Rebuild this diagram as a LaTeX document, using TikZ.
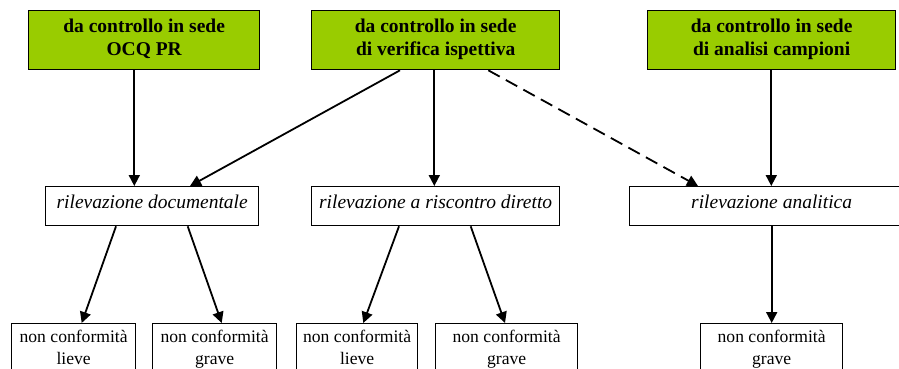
\documentclass[tikz,border=0pt]{standalone}
\usepackage{fontspec}
\setmainfont{Liberation Serif}
\newfontfamily\tmsfont{Liberation Serif}
\usetikzlibrary{arrows.meta,calc}
\definecolor{boxgreen}{HTML}{99CC00}
\begin{document}
\begin{tikzpicture}[x=1pt,y=-1pt,
  box/.style={draw=black,line width=1.3pt,inner sep=0pt,anchor=north west},
  topbox/.style={box,fill=boxgreen,minimum height=59pt},
  midbox/.style={box,fill=white,minimum height=39pt},
  lowbox/.style={box,fill=white,minimum height=50pt},
  toptxt/.style={inner sep=0pt,anchor=north,align=center,font=\tmsfont\fontsize{19.5}{23.4}\selectfont\bfseries},
  midtxt/.style={inner sep=0pt,anchor=north,font=\tmsfont\fontsize{19.5}{23.4}\selectfont\itshape},
  lowtxt/.style={inner sep=0pt,anchor=north,align=center,font=\tmsfont\fontsize{17.6}{21.6}\selectfont},
  conn/.style={line width=1.8pt,-{Triangle[length=11pt,width=11pt]}},
  dashconn/.style={conn,dash pattern=on 13pt off 7pt}
]
\useasboundingbox (0,0) rectangle (899,368);
\clip (0,0) rectangle (899,368);
\fill[white] (0,0) rectangle (899,368);

% top boxes
\node[topbox,minimum width=231pt] (t1) at (28,10) {};
\node[topbox,minimum width=248pt] (t2) at (311,10) {};
\node[topbox,minimum width=248pt] (t3) at (647,10) {};
\node[toptxt] (t1l) at ($(t1.north)+(0,8.3)$) {da controllo in sede\\OCQ PR};
\node[toptxt] (t2l) at ($(t2.north)+(0,8.3)$) {da controllo in sede\\di verifica ispettiva};
\node[toptxt] (t3l) at ($(t3.north)+(0,8.3)$) {da controllo in sede\\di analisi campioni};

% middle boxes
\node[midbox,minimum width=213pt] (m1) at (45,186) {};
\node[midbox,minimum width=248pt] (m2) at (311,186) {};
\node[midbox,minimum width=284pt] (m3) at (629,186) {};
\node[midtxt] (m1l) at ($(m1.north)+(0,9)$) {rilevazione documentale};
\node[midtxt] (m2l) at ($(m2.north)+(0,9)$) {rilevazione a riscontro diretto};
\node[midtxt] (m3l) at ($(m3.north)+(0,9)$) {rilevazione analitica};

% bottom boxes
\node[lowbox,minimum width=124pt] (b1) at (11,323) {};
\node[lowbox,minimum width=124pt] (b2) at (152,323) {};
\node[lowbox,minimum width=121pt] (b3) at (296,323) {};
\node[lowbox,minimum width=142pt] (b4) at (435,323) {};
\node[lowbox,minimum width=142pt] (b5) at (700,323) {};
\node[lowtxt] (b1l) at ($(b1.north)+(0,7)$) {non conformità\\lieve};
\node[lowtxt] (b2l) at ($(b2.north)+(0,7)$) {non conformità\\grave};
\node[lowtxt] (b3l) at ($(b3.north)+(0,7)$) {non conformità\\lieve};
\node[lowtxt] (b4l) at ($(b4.north)+(0,7)$) {non conformità\\grave};
\node[lowtxt] (b5l) at ($(b5.north)+(0,7)$) {non conformità\\grave};

% connectors top -> middle
\draw[conn] ($(t1.south west)+(106.3,0)$) -- ($(m1.north west)+(89.3,0)$);
\draw[conn] ($(t2.south west)+(89,0)$) -- ($(m1.north west)+(145,0)$);
\draw[conn] ($(t2.south west)+(123.3,0)$) -- ($(m2.north west)+(123.3,0)$);
\draw[dashconn] ($(t2.south west)+(177.3,0)$) -- ($(m3.north west)+(69,0)$);
\draw[conn] ($(t3.south west)+(124.3,0)$) -- ($(m3.north west)+(142.3,0)$);

% connectors middle -> bottom
\draw[conn] ($(m1.south west)+(71,0)$) -- ($(b1.north west)+(70.7,0)$);
\draw[conn] ($(m1.south west)+(142.7,0)$) -- ($(b2.north west)+(69.7,0)$);
\draw[conn] ($(m2.south west)+(88,0)$) -- ($(b3.north west)+(67.3,0)$);
\draw[conn] ($(m2.south west)+(159.7,0)$) -- ($(b4.north west)+(70,0)$);
\draw[conn] ($(m3.south west)+(142.7,0)$) -- ($(b5.north west)+(71.7,0)$);
\end{tikzpicture}
\end{document}
